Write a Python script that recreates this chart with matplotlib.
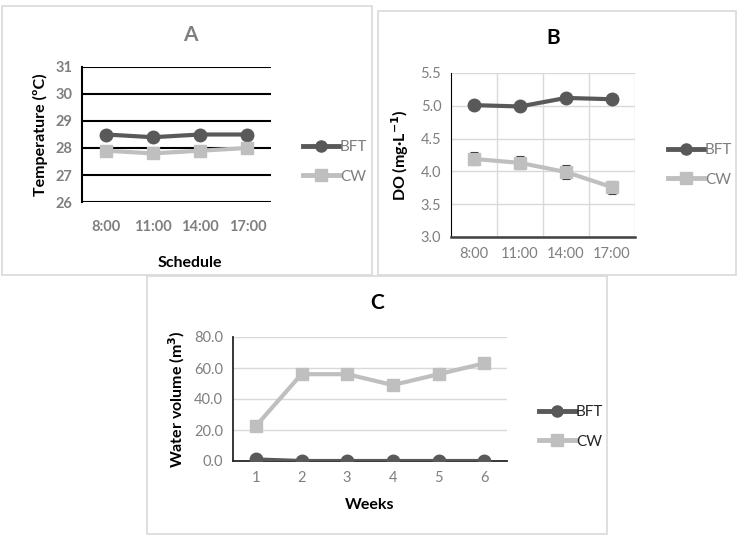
import matplotlib.pyplot as plt
from matplotlib.patches import Rectangle
from matplotlib.lines import Line2D

plt.rcParams["font.family"] = ["Lato", "DejaVu Sans"]

W, H = 748, 542

schedule = ["8:00", "11:00", "14:00", "17:00"]
temp_bft = [28.5, 28.4, 28.5, 28.5]
temp_cw = [27.9, 27.8, 27.9, 28.0]

do_bft = [5.01, 4.99, 5.12, 5.10]
do_cw = [4.19, 4.13, 3.99, 3.76]
do_cw_err = [0.1, 0.1, 0.1, 0.1]

weeks = ["1", "2", "3", "4", "5", "6"]
vol_bft = [1.0, 0.0, 0.0, 0.0, 0.0, 0.0]
vol_cw = [22.5, 56.0, 56.0, 49.0, 56.0, 63.0]

DARK = "#595959"
LIGHT = "#bfbfbf"
GRAYTXT = "#7f7f7f"
TICK = 10.5


def px(x0, y0, x1, y1):
    return [x0 / W, 1 - y1 / H, (x1 - x0) / W, (y1 - y0) / H]


def box(fig, x0, y0, x1, y1):
    fig.patches.append(Rectangle((x0 / W, 1 - y1 / H), (x1 - x0) / W, (y1 - y0) / H,
                                 transform=fig.transFigure, fill=False,
                                 edgecolor="#d9d9d9", linewidth=1.2))


def legend(fig, x, y, color_txt, bold=False):
    handles = [Line2D([], [], color=DARK, lw=3.5, marker="o", ms=8),
               Line2D([], [], color=LIGHT, lw=3.5, marker="s", ms=8)]
    fig.legend(handles, ["BFT", "CW"], loc="center left",
               bbox_to_anchor=(x / W, 1 - y / H), bbox_transform=fig.transFigure,
               frameon=False, handlelength=2.4, handletextpad=0.05,
               labelspacing=1.0, borderpad=0, labelcolor=color_txt,
               prop={"size": 11, "weight": "bold" if bold else "normal"})


fig = plt.figure(figsize=(W / 100, H / 100), dpi=100)

box(fig, 2, 6, 372, 275)
box(fig, 378, 11, 736, 275)
box(fig, 147, 276, 607, 534)

# panel A
ax = fig.add_axes(px(82, 67, 271, 202))
x = range(len(schedule))
ax.plot(x, temp_bft, color=DARK, lw=3, marker="o", ms=9, zorder=3)
ax.plot(x, temp_cw, color=LIGHT, lw=3, marker="s", ms=9, zorder=3)
ax.set_xlim(-0.5, 3.5)
ax.set_ylim(26, 31)
ax.set_yticks(range(26, 32))
ax.set_xticks(list(x))
ax.set_xticklabels(schedule)
ax.grid(axis="y", color="black", lw=1.5)
ax.set_axisbelow(True)
for s in ["top", "right", "bottom"]:
    ax.spines[s].set_visible(False)
ax.spines["left"].set_color("black")
ax.spines["left"].set_linewidth(1.5)
ax.tick_params(length=0, labelsize=TICK, labelcolor=GRAYTXT, pad=7)
for t in ax.get_xticklabels() + ax.get_yticklabels():
    t.set_fontweight("bold")
ax.tick_params(axis="x", pad=13)
ax.set_ylabel("Temperature (ºC)", fontsize=11.5, fontweight="bold", labelpad=5)
fig.text(190 / W, 1 - 35 / H, "A", ha="center", va="center", fontsize=15,
         fontweight="bold", color=GRAYTXT)
fig.text(190 / W, 1 - 263 / H, "Schedule", ha="center", va="center", fontsize=11.5,
         fontweight="bold")
legend(fig, 295, 162, GRAYTXT)

# panel B
ax = fig.add_axes(px(451, 73, 635, 237))
ax.errorbar(x, do_cw, yerr=do_cw_err, fmt="none", ecolor="#262626",
            elinewidth=0.8, capsize=3, capthick=0.8, zorder=2)
ax.plot(x, do_bft, color=DARK, lw=3, marker="o", ms=9, zorder=3)
ax.plot(x, do_cw, color=LIGHT, lw=3, marker="s", ms=9, zorder=3)
ax.set_xlim(-0.5, 3.5)
ax.set_ylim(3.0, 5.5)
ax.set_yticks([3.0, 3.5, 4.0, 4.5, 5.0, 5.5])
ax.set_yticklabels([f"{v:.1f}" for v in ax.get_yticks()])
ax.set_xticks(list(x))
ax.set_xticklabels(schedule)
for v in [0.5, 1.5, 2.5, 3.5]:
    ax.axvline(v, color="#d9d9d9", lw=1, zorder=0)
ax.grid(axis="y", color="#d9d9d9", lw=1)
ax.set_axisbelow(True)
for s in ["top", "right"]:
    ax.spines[s].set_visible(False)
ax.spines["left"].set_color("black")
ax.spines["bottom"].set_color("#404040")
ax.spines["bottom"].set_linewidth(1.8)
ax.tick_params(length=0, labelsize=TICK, labelcolor=GRAYTXT, pad=7)
ax.set_ylabel("DO (mg·L$^{\\mathbf{-1}}$)", fontsize=11.5, fontweight="bold", labelpad=7)
fig.text(553 / W, 1 - 38 / H, "B", ha="center", va="center", fontsize=15,
         fontweight="bold")
legend(fig, 660, 165, GRAYTXT)

# panel C
ax = fig.add_axes(px(233, 337, 507, 461))
xw = range(len(weeks))
ax.plot(xw, vol_bft, color=DARK, lw=3, marker="o", ms=9, zorder=4)
ax.plot(xw, vol_cw, color=LIGHT, lw=3, marker="s", ms=9, zorder=3)
ax.set_xlim(-0.5, 5.5)
ax.set_ylim(0, 80)
ax.set_yticks([0, 20, 40, 60, 80])
ax.set_yticklabels([f"{v:.1f}" for v in [0, 20, 40, 60, 80]])
ax.set_xticks(list(xw))
ax.set_xticklabels(weeks)
ax.grid(axis="y", color="#d9d9d9", lw=1)
ax.set_axisbelow(True)
for s in ["top", "right"]:
    ax.spines[s].set_visible(False)
ax.spines["left"].set_color("#262626")
ax.spines["left"].set_linewidth(1.3)
ax.spines["bottom"].set_color("#262626")
ax.spines["bottom"].set_linewidth(1.3)
ax.tick_params(length=0, labelsize=TICK, labelcolor=GRAYTXT, pad=7)
ax.set_ylabel("Water volume (m$^\\mathbf{3}$)", fontsize=11.5, fontweight="bold", labelpad=5)
fig.text(377 / W, 1 - 303 / H, "C", ha="center", va="center", fontsize=15,
         fontweight="bold")
fig.text(370 / W, 1 - 505 / H, "Weeks", ha="center", va="center", fontsize=11.5,
         fontweight="bold")
legend(fig, 531, 427, "#262626")

fig.savefig("out.png", dpi=100, facecolor="white")
